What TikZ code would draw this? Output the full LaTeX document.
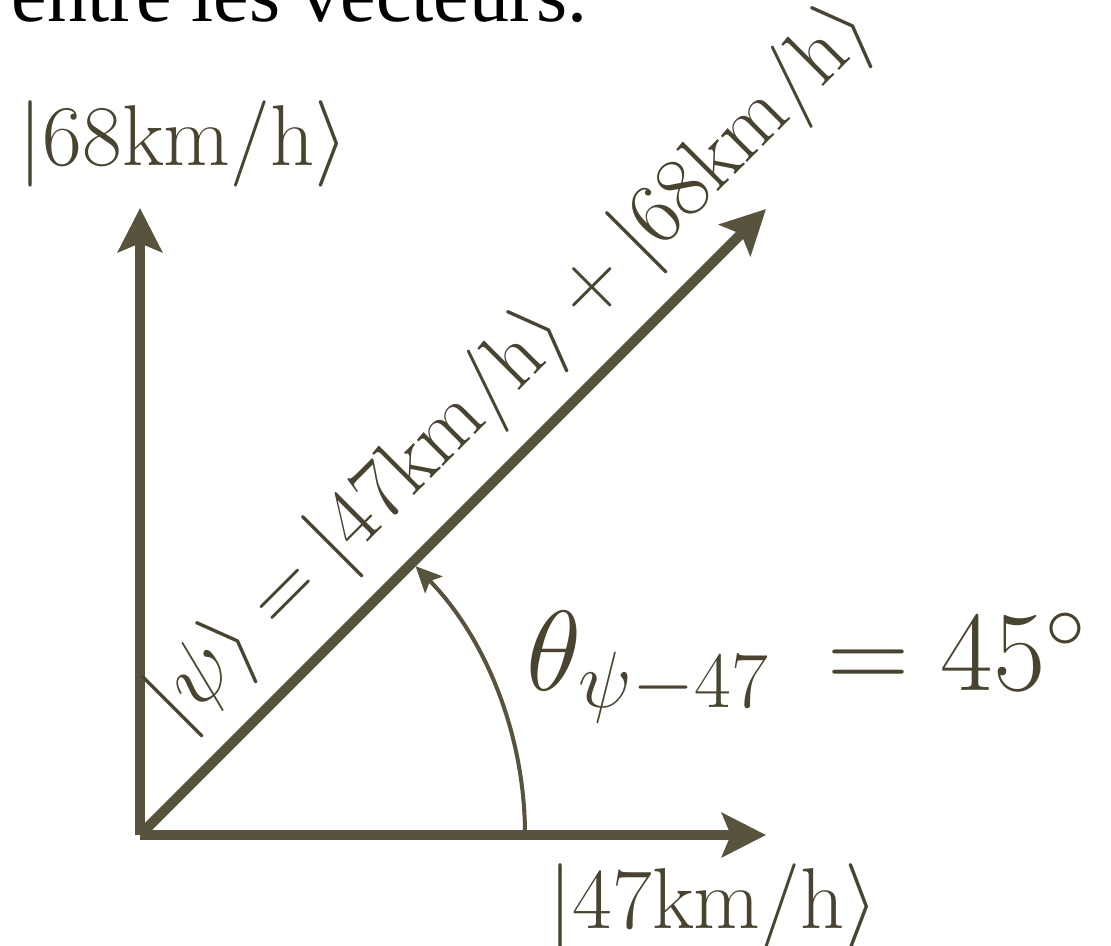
\RequirePackage{fix-cm}
\documentclass[tikz,border=0pt]{standalone}
\usepackage{fontspec}
\newfontfamily\timesfont{Liberation Serif}
\usetikzlibrary{arrows.meta}
\definecolor{vecline}{RGB}{88,83,60}
\definecolor{vectext}{RGB}{72,68,48}
\begin{document}
\begin{tikzpicture}[x=0.25pt,y=-0.25pt,
  vec/.style={draw=vecline, line width=2.5pt, -{Stealth[length=11pt,width=11pt,inset=2.2pt]}},
  anglearrow/.style={draw=vecline, line width=1pt, -{Stealth[length=6.5pt,width=6pt,inset=1.3pt]}},
  lbl/.style={text=vectext, inner sep=0pt, font=\fontsize{21.6}{26}\selectfont},
  big/.style={text=vectext, inner sep=0pt, font=\fontsize{28.5}{34}\selectfont},
  caption/.style={text=black, inner sep=0pt, font=\timesfont\fontsize{20}{24}\selectfont}]
\useasboundingbox (0,0) rectangle (1111,945);
\node[caption, anchor=base west] (cap) at (11,21) {entre les vecteurs.};
\coordinate (O) at (140,835);
\coordinate (X) at (766,835);
\coordinate (Y) at (140,208);
\coordinate (D) at (766,209);
\coordinate (A) at (525,835);
\draw[vec] (O) -- (X);
\draw[vec] (O) -- (Y);
\draw[vec] (O) -- (D);
\draw[anglearrow] (A) arc[start angle=0, end angle=44.3, radius=96.25pt];
\node[lbl, anchor=base west] (l68) at (18,165) {$|68\mathrm{km/h}\rangle$};
\node[lbl, anchor=base west] (l47) at (548,928) {$|47\mathrm{km/h}\rangle$};
\node[big, anchor=base west] (th) at (526,690) {$\theta_{\psi-47}\hspace{6.5pt}=45^\circ$};
\node[lbl, anchor=base west, rotate=45] (psi) at (179,731) {$|\psi\rangle=|47\mathrm{km/h}\rangle+|68\mathrm{km/h}\rangle$};
\end{tikzpicture}
\end{document}
